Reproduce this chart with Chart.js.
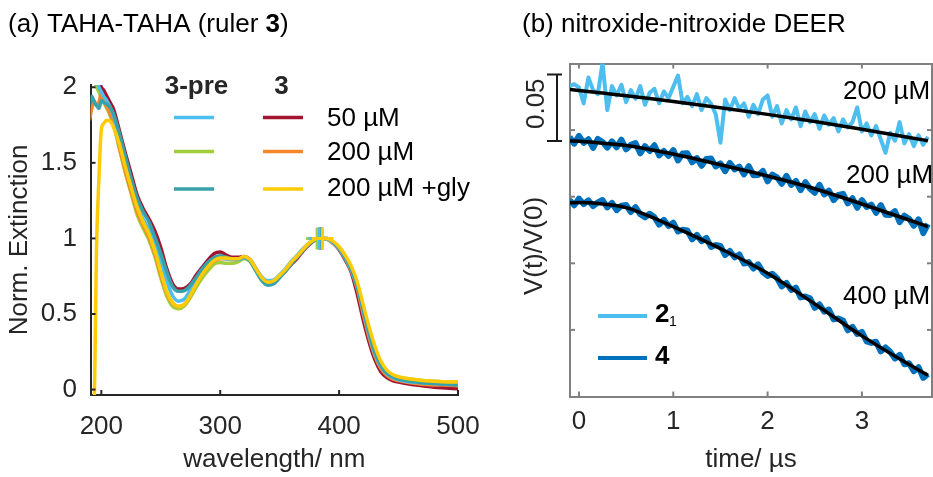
<!DOCTYPE html>
<html>
<head>
<meta charset="utf-8">
<script src="https://cdn.jsdelivr.net/npm/chart.js@4.4.1/dist/chart.umd.min.js"></script>
<style>
  html, body { margin: 0; padding: 0; background: #fff; }
  #wrap { position: relative; width: 933px; height: 477px; overflow: hidden; }
  #spec { position: absolute; left: 0; top: 0; }
  #deer { position: absolute; left: 500px; top: 0; }
</style>
</head>
<body>
<div id="wrap">
  <canvas id="spec" width="500" height="477"></canvas>
  <canvas id="deer" width="433" height="477"></canvas>
</div>
<script>
// ---------- panel (a): UV/vis spectra ----------
const wavelength = [190,192,194,196,198,200,202,204,206,208,210,
  215,220,225,230,235,240,245,250,255,260,
  265,270,275,280,285,290,295,300,305,310,
  315,320,325,330,335,340,345,350,355,360,
  365,370,375,380,385,390,395,400,405,410,
  415,420,425,430,435,440,445,450,
  460,470,480,490,500];

// 3-pre
const pre_a = [2.20,2.15,2.10,2.05,2.00,1.97,1.94,1.92,1.89,1.86,1.82,
  1.67,1.51,1.36,1.22,1.13,1.06,0.97,0.85,0.72,0.62,
  0.585,0.60,0.66,0.73,0.79,0.83,0.86,0.87,0.865,0.86,
  0.86,0.87,0.855,0.80,0.745,0.72,0.725,0.76,0.80,0.85,
  0.89,0.935,0.97,0.995,1.00,0.995,0.97,0.93,0.87,0.795,
  0.685,0.53,0.37,0.24,0.155,0.105,0.08,0.065,
  0.05,0.045,0.04,0.035,0.035];
const pre_b = [2.30,2.20,2.06,2.00,1.97,1.93,1.90,1.87,1.84,1.80,1.76,
  1.60,1.44,1.30,1.16,1.07,0.99,0.88,0.74,0.62,0.55,
  0.535,0.555,0.61,0.68,0.74,0.79,0.83,0.84,0.835,0.835,
  0.845,0.865,0.85,0.79,0.73,0.705,0.715,0.75,0.79,0.845,
  0.885,0.93,0.97,0.995,1.00,0.995,0.97,0.935,0.88,0.805,
  0.70,0.55,0.39,0.26,0.17,0.12,0.095,0.08,
  0.07,0.06,0.055,0.05,0.05];
const pre_c = [1.88,1.94,1.90,1.88,1.86,1.91,1.90,1.89,1.88,1.86,1.83,
  1.70,1.55,1.40,1.27,1.18,1.11,1.01,0.90,0.78,0.68,
  0.65,0.655,0.69,0.745,0.80,0.845,0.875,0.885,0.875,0.865,
  0.865,0.875,0.85,0.785,0.72,0.69,0.70,0.74,0.785,0.835,
  0.88,0.925,0.965,0.99,1.00,1.00,0.975,0.935,0.875,0.80,
  0.69,0.54,0.38,0.25,0.16,0.11,0.085,0.07,
  0.055,0.045,0.04,0.035,0.03];
// 3
const r3_50 = [2.20,2.20,2.15,2.10,2.04,2.00,1.98,1.95,1.92,1.89,1.86,
  1.72,1.57,1.43,1.29,1.20,1.13,1.05,0.94,0.80,0.70,
  0.665,0.67,0.70,0.76,0.81,0.86,0.90,0.91,0.89,0.875,
  0.875,0.88,0.86,0.80,0.74,0.715,0.72,0.75,0.785,0.83,
  0.87,0.92,0.96,0.99,1.00,1.00,0.97,0.925,0.86,0.78,
  0.64,0.47,0.32,0.20,0.12,0.08,0.06,0.05,
  0.035,0.025,0.015,0.01,0.005];
const r3_200 = [1.78,1.86,1.91,1.88,1.90,1.96,1.91,1.88,1.85,1.81,1.77,
  1.61,1.45,1.31,1.18,1.09,1.01,0.90,0.76,0.64,0.57,
  0.55,0.565,0.625,0.70,0.765,0.815,0.85,0.865,0.865,0.86,
  0.86,0.875,0.855,0.795,0.735,0.705,0.715,0.75,0.79,0.84,
  0.88,0.925,0.965,0.99,1.00,0.995,0.965,0.93,0.87,0.79,
  0.675,0.51,0.35,0.225,0.14,0.095,0.07,0.06,
  0.045,0.035,0.03,0.03,0.025];
const r3_gly = [-0.20,-0.20,-0.08,0.95,1.40,1.72,1.76,1.78,1.78,1.77,1.74,
  1.63,1.48,1.34,1.21,1.11,1.03,0.92,0.78,0.65,0.575,
  0.55,0.565,0.625,0.70,0.765,0.815,0.855,0.87,0.87,0.865,
  0.865,0.88,0.86,0.80,0.74,0.71,0.72,0.755,0.795,0.845,
  0.885,0.93,0.97,0.995,1.00,1.00,0.98,0.945,0.89,0.82,
  0.72,0.57,0.42,0.29,0.19,0.13,0.10,0.085,
  0.07,0.06,0.055,0.05,0.05];

// normalisation markers (+) at the band maximum
const peakNm = [383.5, 381.5, 385.5, 384, 384.5, 386];

const specXTicks = [200, 300, 400, 500];
const specYTicks = [0, 0.5, 1, 1.5, 2];
const legendHead = ['3-pre', '3'];
const legendConc = ['50 µM', '200 µM', '200 µM +gly'];

// ---------- panel (b): DEER traces ----------
const time = [-0.10,-0.05,0.00,0.05,0.10,0.15,0.20,0.25,0.30,0.35,
  0.40,0.45,0.50,0.55,0.60,0.65,0.70,0.75,0.80,0.85,
  0.90,0.95,1.00,1.05,1.10,1.15,1.20,1.25,1.30,1.35,
  1.40,1.45,1.50,1.55,1.60,1.65,1.70,1.75,1.80,1.85,
  1.90,1.95,2.00,2.05,2.10,2.15,2.20,2.25,2.30,2.35,
  2.40,2.45,2.50,2.55,2.60,2.65,2.70,2.75,2.80,2.85,
  2.90,2.95,3.00,3.05,3.10,3.15,3.20,3.25,3.30,3.35,
  3.40,3.45,3.50,3.55,3.60,3.65,3.70];

// vertically offset V(t)/V(0)
const trace2_200 = [.2330,.2345,.2320,.2200,.2395,.2300,.2270,.2505,.2150,.2330,
  .2260,.2340,.2210,.2300,.2235,.2330,.2190,.2280,.2310,.2200,
  .2290,.2240,.2325,.2410,.2200,.2250,.2180,.2270,.2150,.2240,
  .2200,.2120,.1905,.2230,.2150,.2240,.2160,.2200,.2100,.2190,
  .2120,.2230,.2260,.2100,.2180,.2050,.2150,.2080,.2170,.2030,
  .2140,.2060,.2120,.2010,.2110,.2040,.2090,.1990,.2080,.2020,
  .2060,.2170,.1990,.2050,.1960,.2030,.1930,.1830,.1980,.1920,
  .2060,.1900,.1970,.1880,.1960,.1890,.1950];
const trace4_200 = [.1948,.1898,.1957,.1904,.1931,.1867,.1934,.1911,.1868,.1915,
  .1871,.1928,.1855,.1889,.1902,.1826,.1879,.1843,.1886,.1810,
  .1843,.1807,.1850,.1772,.1824,.1826,.1758,.1790,.1732,.1784,
  .1786,.1728,.1750,.1692,.1753,.1705,.1726,.1668,.1729,.1661,
  .1662,.1694,.1615,.1666,.1646,.1597,.1657,.1588,.1618,.1549,
  .1609,.1560,.1530,.1589,.1517,.1546,.1474,.1513,.1521,.1450,
  .1488,.1417,.1475,.1423,.1441,.1379,.1437,.1365,.1363,.1391,
  .1309,.1357,.1335,.1282,.1330,.1227,.1295];
const trace4_400 = [.1475,.1435,.1486,.1444,.1472,.1430,.1457,.1475,.1420,.1454,
  .1399,.1433,.1438,.1385,.1422,.1368,.1345,.1372,.1347,.1291,
  .1326,.1280,.1305,.1239,.1252,.1246,.1179,.1213,.1166,.1190,
  .1123,.1137,.1130,.1062,.1093,.1045,.1066,.0998,.1009,.0961,
  .0992,.0934,.0905,.0922,.0889,.0826,.0853,.0800,.0817,.0744,
  .0751,.0738,.0665,.0691,.0637,.0653,.0579,.0585,.0571,.0497,
  .0523,.0469,.0485,.0414,.0402,.0411,.0339,.0368,.0336,.0285,
  .0313,.0242,.0250,.0190,.0220,.0140,.0170];

const fitTime = [-0.1, 0, 0.25, 0.5, 0.75, 1, 1.5, 2, 2.5, 3, 3.5, 3.7];
const fit2_200 = [.2306,.2298,.2278,.2258,.2237,.2215,.2168,.2118,.2064,.2006,.1945,.1920];
const fit4_200 = [.1918,.1917,.1902,.1885,.1855,.1820,.1740,.1655,.1560,.1445,.1325,.1275];
const fit4_400 = [.1455,.1456,.1445,.1418,.1352,.1275,.1110,.0925,.0695,.0455,.0240,.0160];

const deerXTicks = [0, 1, 2, 3];
const deerYTicks = [0.05, 0.10, 0.15, 0.20];
const deerConc = ['200 µM', '200 µM', '400 µM'];
const scaleBarFrom = 0.1918, scaleBarSize = 0.05;

// ---------- shared ----------
const FONT = "'Liberation Sans', Arial, Helvetica, sans-serif";
Chart.defaults.font.family = FONT;
Chart.defaults.font.size = 26;
Chart.defaults.color = '#262626';
Chart.defaults.animation = false;

const C = {
  lblue: '#4DBEEE', green: '#A2CE3A', teal: '#38A1A9',
  red: '#A2142F', orange: '#F5872A', yellow: '#FFCB05',
  blue: '#0072BD', axisA: '#262626', axisB: '#808080'
};

function xy(xs, ys) { return xs.map((x, i) => ({x: x, y: ys[i]})); }
const plainNum = v => String(+v.toFixed(2));

const inwardTicks = {
  id: 'inwardTicks',
  afterDraw(chart) {
    const {ctx, chartArea: a, scales} = chart;
    const o = chart.options.plugins.inwardTicks;
    ctx.save();
    ctx.strokeStyle = o.color;
    ctx.lineWidth = o.width;
    Object.values(scales).forEach(s => {
      s.ticks.forEach(t => {
        const p = s.getPixelForValue(t.value);
        ctx.beginPath();
        if (s.position === 'bottom') { ctx.moveTo(p, a.bottom); ctx.lineTo(p, a.bottom - o.len); }
        else if (s.position === 'top') { ctx.moveTo(p, a.top); ctx.lineTo(p, a.top + o.len); }
        else if (s.position === 'left') { ctx.moveTo(a.left, p); ctx.lineTo(a.left + o.len, p); }
        else { ctx.moveTo(a.right, p); ctx.lineTo(a.right - o.len, p); }
        ctx.stroke();
      });
    });
    ctx.restore();
  }
};

function drawRuns(ctx, x, y, runs, size) {
  runs.forEach(([txt, bold]) => {
    ctx.font = (bold ? 'bold ' : '') + size + 'px ' + FONT;
    ctx.fillText(txt, x, y);
    x += ctx.measureText(txt).width;
  });
}

// ---------- chart (a) ----------
const specLines = [
  {v: r3_gly, c: C.yellow, p: peakNm[5]},
  {v: pre_c, c: C.teal, p: peakNm[2]},
  {v: pre_a, c: C.lblue, p: peakNm[0]},
  {v: r3_200, c: C.orange, p: peakNm[4]},
  {v: pre_b, c: C.green, p: peakNm[1]},
  {v: r3_50, c: C.red, p: peakNm[3]}
];
const specSets = [];
specLines.forEach(s => specSets.push({
  data: [{x: s.p, y: 1}], showLine: false, pointStyle: 'cross',
  pointRadius: 11, pointBorderWidth: 3, pointBorderColor: s.c, clip: 0
}));
specLines.forEach(s => specSets.push({
  data: xy(wavelength, s.v), borderColor: s.c, borderWidth: 3.5,
  pointRadius: 0, cubicInterpolationMode: 'monotone', clip: 0
}));

const specDecor = {
  id: 'specDecor',
  afterDraw(chart) {
    const ctx = chart.ctx;
    ctx.save();
    ctx.fillStyle = '#000';
    ctx.textBaseline = 'alphabetic';
    drawRuns(ctx, 8, 32, [['(a) TAHA-TAHA (ruler ', false], ['3', true], [')', false]], 26);
    ctx.fillStyle = '#262626';
    ctx.textAlign = 'center';
    ctx.font = 'bold 26px ' + FONT;
    ctx.fillText(legendHead[0], 196.5, 94);
    ctx.fillText(legendHead[1], 281.5, 94);
    ctx.textAlign = 'left';
    ctx.font = '26px ' + FONT;
    const rows = [117.5, 151.5, 189];
    const base = [126, 160, 196];
    const colA = [C.lblue, C.green, C.teal];
    const colB = [C.red, C.orange, C.yellow];
    ctx.lineWidth = 3.5;
    rows.forEach((y, i) => {
      ctx.strokeStyle = colA[i];
      ctx.beginPath(); ctx.moveTo(174, y); ctx.lineTo(214, y); ctx.stroke();
      ctx.strokeStyle = colB[i];
      ctx.beginPath(); ctx.moveTo(263, y); ctx.lineTo(303, y); ctx.stroke();
      ctx.fillStyle = '#000';
      ctx.fillText(legendConc[i], 327, base[i]);
    });
    ctx.restore();
  }
};

new Chart(document.getElementById('spec').getContext('2d'), {
  type: 'line',
  data: {datasets: specSets},
  options: {
    responsive: false,
    layout: {padding: {left: 0, right: 42, top: 85, bottom: 0}},
    plugins: {
      legend: {display: false}, tooltip: {enabled: false},
      inwardTicks: {color: C.axisA, width: 2, len: 5}
    },
    scales: {
      x: {
        type: 'linear', position: 'bottom', min: 190.9, max: 500,
        grid: {display: false},
        border: {display: true, color: C.axisA, width: 2},
        ticks: {padding: 8, color: '#262626', callback: plainNum},
        afterBuildTicks: s => { s.ticks = specXTicks.map(v => ({value: v})); },
        afterFit: s => { s.height = 82; },
        title: {display: true, text: 'wavelength/ nm', color: '#262626', padding: {top: 0, bottom: 2}}
      },
      y: {
        type: 'linear', position: 'left', min: -0.036, max: 2.015,
        grid: {display: false},
        border: {display: true, color: C.axisA, width: 2},
        ticks: {padding: 5.5, color: '#262626', callback: plainNum},
        afterBuildTicks: s => { s.ticks = specYTicks.map(v => ({value: v})); },
        afterFit: s => { s.width = 90.5; },
        title: {display: true, text: 'Norm. Extinction', color: '#262626', padding: {top: 4, bottom: 0}}
      }
    }
  },
  plugins: [inwardTicks, specDecor]
});

// ---------- chart (b) ----------
const deerDecor = {
  id: 'deerDecor',
  afterDraw(chart) {
    const ctx = chart.ctx;
    const y = chart.scales.y;
    ctx.save();
    ctx.fillStyle = '#000';
    ctx.textBaseline = 'alphabetic';
    drawRuns(ctx, 22, 32, [['(b) nitroxide-nitroxide DEER', false]], 26);
    // concentration labels
    ctx.font = '26px ' + FONT;
    ctx.fillText(deerConc[0], 343, 98.5);
    ctx.fillText(deerConc[1], 346, 183);
    ctx.fillText(deerConc[2], 343, 303.5);
    // y title
    ctx.fillStyle = '#262626';
    ctx.textBaseline = 'middle';
    ctx.textAlign = 'center';
    ctx.save();
    ctx.translate(35, 246);
    ctx.rotate(-Math.PI / 2);
    ctx.fillText('V(t)/V(0)', 0, 0);
    ctx.restore();
    // scale bar
    const y0 = y.getPixelForValue(scaleBarFrom);
    const y1 = y.getPixelForValue(scaleBarFrom + scaleBarSize);
    ctx.strokeStyle = '#1a1a1a';
    ctx.lineWidth = 2;
    ctx.beginPath();
    ctx.moveTo(57, y0); ctx.lineTo(57, y1);
    ctx.moveTo(47, y0); ctx.lineTo(62, y0);
    ctx.moveTo(47, y1); ctx.lineTo(62, y1);
    ctx.stroke();
    ctx.save();
    ctx.translate(36.5, (y0 + y1) / 2 - 4);
    ctx.rotate(-Math.PI / 2);
    ctx.fillText('0.05', 0, 0);
    ctx.restore();
    // legend
    ctx.lineWidth = 4;
    ctx.strokeStyle = C.lblue;
    ctx.beginPath(); ctx.moveTo(98, 316); ctx.lineTo(147, 316); ctx.stroke();
    ctx.strokeStyle = C.blue;
    ctx.beginPath(); ctx.moveTo(98, 358); ctx.lineTo(147, 358); ctx.stroke();
    ctx.textAlign = 'left';
    ctx.textBaseline = 'alphabetic';
    ctx.fillStyle = '#000';
    ctx.font = 'bold 26px ' + FONT;
    ctx.fillText('2', 155, 322);
    ctx.fillText('4', 155, 363.5);
    ctx.font = '14px ' + FONT;
    ctx.fillText('1', 169, 325.5);
    ctx.restore();
  }
};

const fitStyle = {borderColor: '#000', borderWidth: 3.5, pointRadius: 0, cubicInterpolationMode: 'monotone'};
const deerSets = [
  Object.assign({data: xy(fitTime, fit2_200)}, fitStyle),
  Object.assign({data: xy(fitTime, fit4_200)}, fitStyle),
  Object.assign({data: xy(fitTime, fit4_400)}, fitStyle),
  {data: xy(time, trace2_200), borderColor: C.lblue, borderWidth: 4, borderJoinStyle: 'round', pointRadius: 0, tension: 0},
  {data: xy(time, trace4_200), borderColor: C.blue, borderWidth: 6, borderJoinStyle: 'round', pointRadius: 0, tension: 0},
  {data: xy(time, trace4_400), borderColor: C.blue, borderWidth: 6, borderJoinStyle: 'round', pointRadius: 0, tension: 0}
];

const hiddenTicks = {display: false};
new Chart(document.getElementById('deer').getContext('2d'), {
  type: 'line',
  data: {datasets: deerSets},
  options: {
    responsive: false,
    layout: {padding: 0},
    plugins: {
      legend: {display: false}, tooltip: {enabled: false},
      inwardTicks: {color: C.axisB, width: 2, len: 5}
    },
    scales: {
      x: {
        type: 'linear', position: 'bottom', min: -0.095, max: 3.743,
        grid: {display: false},
        border: {display: true, color: C.axisB, width: 2},
        ticks: {padding: 2, color: '#262626', callback: plainNum},
        afterBuildTicks: s => { s.ticks = deerXTicks.map(v => ({value: v})); },
        afterFit: s => { s.height = 80.5; },
        title: {display: true, text: 'time/ µs', color: '#262626', padding: {top: 0, bottom: 2}}
      },
      x2: {
        type: 'linear', position: 'top', min: -0.095, max: 3.743,
        grid: {display: false},
        border: {display: true, color: C.axisB, width: 2},
        ticks: hiddenTicks,
        afterBuildTicks: s => { s.ticks = deerXTicks.map(v => ({value: v})); },
        afterFit: s => { s.height = 63.5; }
      },
      y: {
        type: 'linear', position: 'left', min: 0, max: 0.25,
        grid: {display: false},
        border: {display: true, color: C.axisB, width: 2},
        ticks: hiddenTicks,
        afterBuildTicks: s => { s.ticks = deerYTicks.map(v => ({value: v})); },
        afterFit: s => { s.width = 70; }
      },
      y2: {
        type: 'linear', position: 'right', min: 0, max: 0.25,
        grid: {display: false},
        border: {display: true, color: C.axisB, width: 2},
        ticks: hiddenTicks,
        afterBuildTicks: s => { s.ticks = deerYTicks.map(v => ({value: v})); },
        afterFit: s => { s.width = 1; }
      }
    }
  },
  plugins: [inwardTicks, deerDecor]
});
</script>
</body>
</html>
